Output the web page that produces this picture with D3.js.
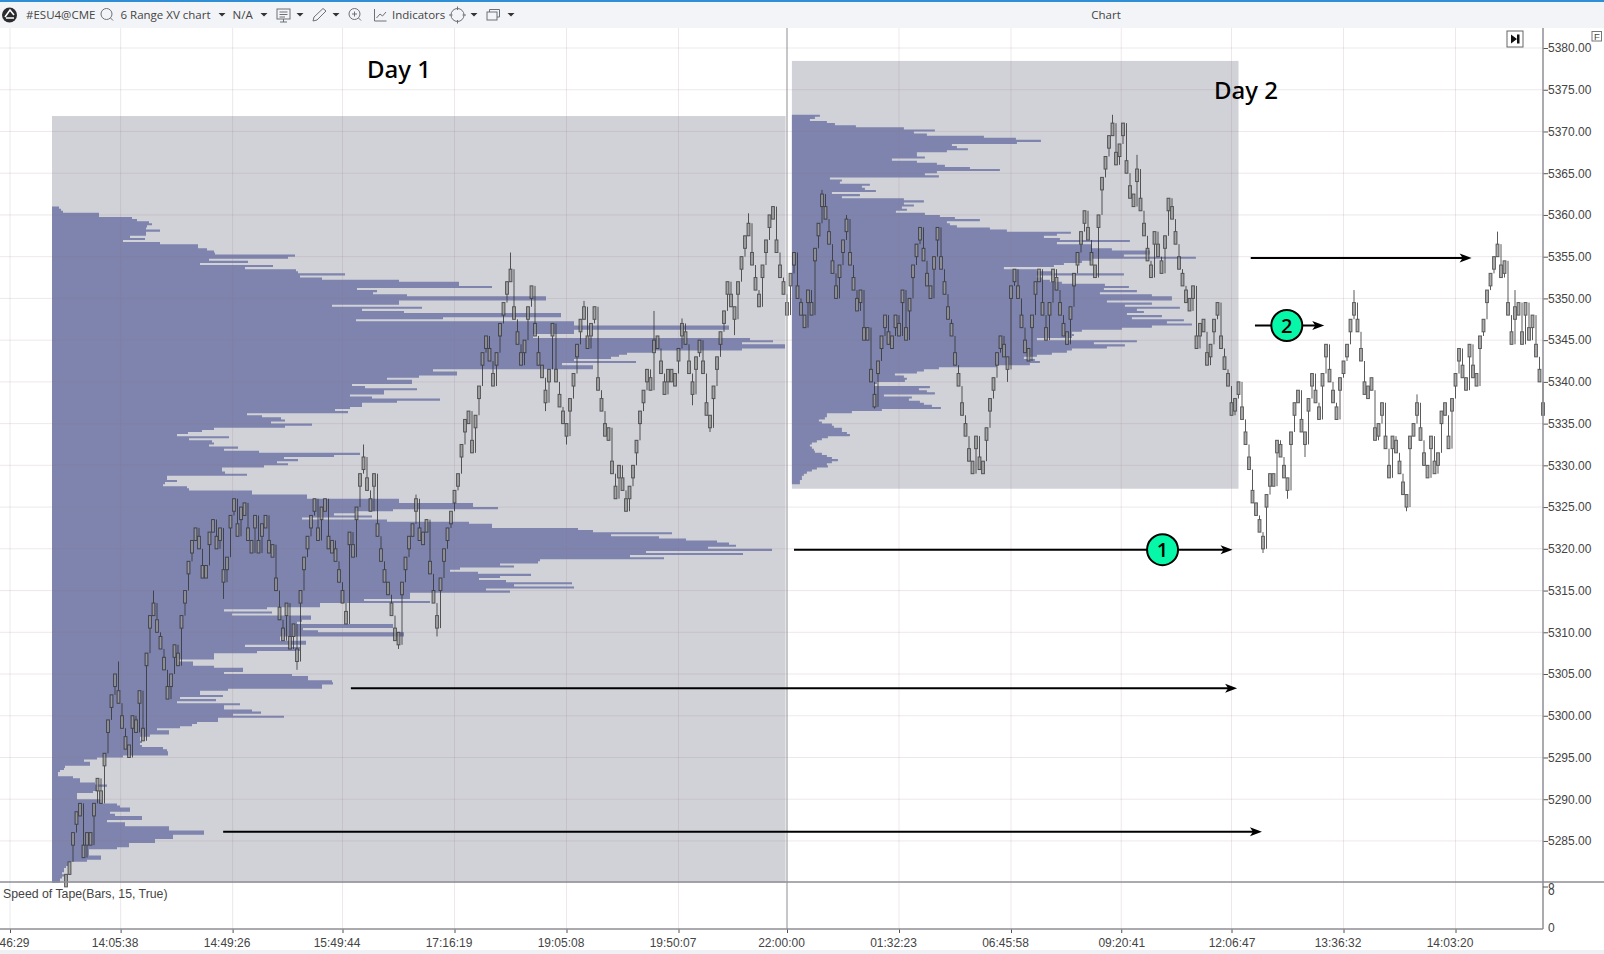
<!DOCTYPE html>
<html>
<head>
<meta charset="utf-8">
<title>Chart</title>
<script src="https://cdn.jsdelivr.net/npm/d3@7"></script>
<style>
html, body { margin: 0; padding: 0; background: #fff; overflow: hidden; }
svg { display: block; }
</style>
</head>
<body>
<svg id="chart" width="1604" height="954"></svg>
<script>
// price axis and time axis labels
const priceTicks = [5380, 5375, 5370, 5365, 5360, 5355, 5350, 5345, 5340, 5335, 5330, 5325, 5320, 5315, 5310, 5305, 5300, 5295, 5290, 5285];
const tickBars = [-16, 15.6, 47.6, 79, 111, 143, 175, 206, 238, 270, 301.5, 333, 365, 397];
const tickLabels = ["46:29", "14:05:38", "14:49:26", "15:49:44", "17:16:19", "19:05:08", "19:50:07", "22:00:00", "01:32:23", "06:45:58", "09:20:41", "12:06:47", "13:36:32", "14:03:20"];
// how far each time label sits from its tick
const tickLabelShifts = [4, -6, -6, -6, -6, -6, -6, -6, -6, -6, 0, 0, -6, -6];

// 6 range bars, every body is 1.5 points tall
const rangeSize = 1.5;

// close of each bar from left to right
const closes = [
  5281, 5282.5, 5286, 5288.5, 5289.5, 5283, 5286, 5284.5, 5289.5, 5292.5, 5289.5, 5295.5, 5299.5, 5302.5, 5305, 5301.5, 5298.5, 5296, 5295, 5300,
  5298, 5303, 5297, 5307.5, 5312, 5313.5, 5310, 5308, 5305.5, 5302, 5305, 5308.5, 5306, 5312, 5315, 5318.5, 5321, 5322.5, 5320, 5316.5,
  5318, 5322, 5323.5, 5320, 5322.5, 5316, 5319, 5324, 5326, 5321.5, 5325, 5325.5, 5321, 5319.5, 5324, 5319.5, 5323, 5324, 5319.5, 5320.5,
  5315, 5311.5, 5309, 5313.5, 5308, 5311, 5306.5, 5315, 5319, 5321.5, 5324, 5326, 5321, 5325, 5326, 5320, 5321, 5318.5, 5316, 5313.5,
  5311, 5322, 5319, 5325, 5329, 5331, 5327, 5324.5, 5329, 5321.5, 5318.5, 5316, 5314.5, 5312, 5309, 5308.5, 5316, 5319, 5321.5, 5323,
  5326, 5321, 5322, 5323.5, 5317, 5313.5, 5310.5, 5316.5, 5320, 5322.5, 5324.5, 5327, 5329, 5332.5, 5335.5, 5336.5, 5331.5, 5336, 5339.5, 5343.5,
  5345.5, 5342.5, 5339.5, 5343.5, 5347, 5349.5, 5352, 5353.5, 5347.5, 5344.5, 5342, 5345, 5349, 5351.5, 5345.5, 5342, 5340.5, 5337.5, 5341.5, 5347,
  5340, 5337, 5335, 5333.5, 5338, 5341, 5344.5, 5347.5, 5349, 5344, 5347, 5349, 5339, 5336.5, 5333.5, 5334.5, 5329, 5326, 5330, 5327,
  5324.5, 5327.5, 5330, 5333, 5336.5, 5339, 5341.5, 5339, 5345, 5344, 5341, 5338.5, 5341.5, 5340, 5341, 5344, 5347, 5344.5, 5341, 5338.5,
  5343, 5345, 5341, 5336, 5334.5, 5339.5, 5343, 5346, 5348.5, 5352, 5349, 5347.5, 5352, 5355, 5357.5, 5359, 5354, 5351, 5349, 5354,
  5357, 5360, 5361, 5355.5, 5352.5, 5350.5, 5348, 5353, 5355.5, 5350, 5348, 5346.5, 5351, 5348, 5356, 5359, 5362.5, 5359.5, 5356.5, 5353,
  5350, 5354, 5357, 5359.5, 5354, 5351, 5348.5, 5351, 5345, 5346.5, 5340, 5337, 5342.5, 5345.5, 5348, 5344.5, 5345.5, 5348, 5345.5, 5351,
  5345, 5350, 5354, 5356.5, 5358.5, 5354.5, 5351.5, 5350, 5355, 5358.5, 5353.5, 5350.5, 5347.5, 5345.5, 5342, 5339.5, 5336, 5333.5, 5330.5, 5329,
  5333.5, 5329.5, 5330.5, 5334.5, 5338, 5340.5, 5343.5, 5345.5, 5343, 5341.5, 5351.5, 5353.5, 5350, 5346.5, 5343.5, 5342.5, 5348, 5352, 5353.5, 5348,
  5345, 5349.5, 5353.5, 5351, 5348, 5345.5, 5344.5, 5349, 5353, 5355.5, 5358, 5360.5, 5357, 5354, 5352.5, 5360, 5364.5, 5367, 5369.5, 5371,
  5366, 5368.5, 5371, 5365, 5362, 5361, 5365.5, 5360.5, 5357.5, 5354.5, 5352.5, 5358, 5355, 5353, 5357.5, 5362, 5359.5, 5356.5, 5353.5, 5351.5,
  5349.5, 5348.5, 5351.5, 5344, 5347, 5346, 5342, 5344.5, 5347.5, 5349.5, 5344, 5341.5, 5339.5, 5336, 5338, 5340, 5335.5, 5332.5, 5329.5, 5325.5,
  5324, 5322, 5320, 5326.5, 5329, 5327.5, 5333, 5331, 5328.5, 5327, 5334, 5337.5, 5339, 5334, 5332.5, 5338, 5341, 5337.5, 5335.5, 5341,
  5344.5, 5340, 5337.5, 5335.5, 5340.5, 5342.5, 5344.5, 5347.5, 5349.5, 5346, 5342.5, 5338.5, 5339.5, 5339, 5333, 5335, 5337.5, 5332, 5328.5, 5333.5,
  5331.5, 5329, 5326.5, 5325, 5333.5, 5335, 5337.5, 5333, 5330, 5328.5, 5333.5, 5329, 5331.5, 5336.5, 5336, 5332, 5338, 5341, 5344, 5340.5,
  5339, 5344.5, 5340.5, 5339.5, 5345.5, 5347.5, 5351, 5353, 5355, 5356.5, 5352.5, 5354.5, 5348, 5344.5, 5349, 5349.5, 5344.5, 5349.5, 5345, 5348,
  5343, 5340, 5336
];

// the few bars whose wick sticks out of the body
const wickBars = [15, 25, 45, 66, 85, 95, 100, 106, 127, 137, 143, 148, 168, 176, 179, 184, 191, 195, 216, 223, 231, 269, 299, 306, 342, 349, 354, 368, 383, 386, 409, 414];
const wickEnds = [5306.5, 5315, 5314, 5305.5, 5332.5, 5308, 5326.5, 5309.5, 5355.5, 5336.5, 5332.5, 5349.7, 5348.5, 5347.6, 5337.2, 5334, 5345.6, 5360.2, 5363, 5360, 5336.8, 5340, 5372, 5367.2, 5319.5, 5326, 5331, 5351, 5324.5, 5338.5, 5358, 5351];

// volume profile of each day, one value per 0.25 point going down from the top price
const profileTick = 0.25;
const day1TopPrice = 5361;
const day1Volumes = [
  5, 7, 9, 11, 47, 47, 80, 85, 97, 100, 95, 94, 108, 94, 94, 78, 93, 71, 108, 146,
  146, 155, 162, 163, 243, 236, 157, 196, 148, 221, 193, 244, 246, 293, 248, 270, 347, 407, 407, 440,
  305, 325, 321, 355, 494, 494, 347, 347, 280, 370, 310, 352, 509, 509, 391, 304, 522, 522, 677, 677,
  522, 522, 481, 481, 698, 721, 690, 733, 733, 690, 600, 575, 567, 559, 522, 584, 510, 541, 541, 381,
  405, 405, 367, 335, 360, 360, 300, 313, 365, 332, 332, 298, 320, 388, 345, 310, 310, 298, 283, 296,
  195, 210, 229, 233, 219, 260, 233, 162, 150, 136, 125, 177, 137, 160, 162, 157, 186, 172, 207, 308,
  282, 232, 246, 225, 236, 212, 170, 170, 173, 195, 115, 115, 125, 113, 111, 135, 137, 200, 200, 255,
  255, 347, 347, 421, 421, 446, 341, 303, 282, 320, 250, 335, 417, 440, 440, 526, 541, 620, 559, 607,
  634, 665, 677, 684, 656, 720, 594, 691, 578, 612, 488, 486, 448, 462, 408, 398, 426, 479, 448, 427,
  454, 520, 462, 522, 434, 458, 358, 358, 358, 312, 378, 268, 268, 215, 172, 220, 180, 259, 259, 250,
  245, 341, 341, 251, 266, 352, 352, 228, 228, 254, 254, 193, 248, 248, 205, 162, 162, 162, 126, 141,
  141, 162, 191, 191, 172, 240, 256, 256, 280, 281, 270, 270, 176, 148, 148, 171, 128, 164, 125, 188,
  172, 172, 200, 209, 181, 232, 166, 166, 145, 140, 128, 105, 117, 117, 98, 88, 88, 90, 88, 90,
  111, 115, 116, 116, 71, 45, 32, 38, 38, 13, 12, 8, 6, 6, 21, 28, 28, 43, 55, 45,
  45, 41, 25, 25, 25, 50, 50, 65, 68, 78, 78, 58, 63, 90, 90, 55, 73, 73, 117, 117,
  152, 152, 121, 121, 103, 103, 77, 77, 65, 37, 37, 37, 49, 49, 35, 16, 16, 14, 12, 12,
  10, 12, 10, 8
];
const day2TopPrice = 5372;
const day2Volumes = [
  28, 28, 23, 18, 35, 43, 64, 112, 143, 122, 135, 192, 224, 249, 225, 160, 165, 176, 155, 125,
  125, 133, 100, 125, 145, 153, 178, 208, 145, 133, 147, 38, 50, 48, 78, 70, 73, 84, 40, 68,
  50, 112, 132, 112, 122, 110, 115, 104, 133, 148, 163, 188, 155, 158, 165, 198, 215, 279, 265, 252,
  268, 338, 265, 300, 300, 320, 358, 358, 332, 404, 300, 290, 272, 262, 212, 245, 260, 332, 245, 250,
  258, 270, 313, 337, 312, 345, 308, 360, 380, 380, 315, 360, 333, 388, 345, 352, 335, 370, 340, 392,
  375, 400, 360, 330, 290, 280, 282, 280, 245, 345, 302, 333, 315, 280, 275, 260, 245, 232, 243, 248,
  238, 205, 147, 132, 125, 103, 112, 115, 113, 85, 82, 138, 127, 135, 143, 92, 120, 117, 128, 132,
  140, 149, 90, 60, 35, 35, 33, 27, 30, 40, 42, 50, 50, 55, 58, 36, 30, 25, 20, 18,
  20, 22, 23, 30, 35, 40, 46, 40, 35, 36, 25, 20, 15, 12, 10, 10, 8
];

// shaded session boxes: first bar, last bar, top and bottom price
const boxBarsStart = [-4, 207.4];
const boxBarsEnd = [205.6, 335];
const boxTops = [5371.85, 5378.45];
const boxBottoms = [5280, 5327.2];

// arrows on the chart: price level, start bar, end bar, bar of the numbered badge
const arrowPrices = [5319.9, 5354.85, 5346.75, 5303.3, 5286.1];
const arrowStarts = [208, 338.5, 339.7, 81.4, 44.9];
const arrowEnds = [333.3, 401.6, 359.5, 334.6, 341.7];
const badgeBars = [313.3, null, 348.8, null, null];
const badgeLabels = ["1", null, "2", null, null];

const svg = d3.select("#chart");

const x = d3.scaleLinear().domain([0, 422]).range([66, 1543]);
const y = d3.scaleLinear().domain([5380, 5280]).range([48, 882.7]);
const volWidth = d3.scaleLinear().domain([0, 735]).range([0, 735]);

const axisX = 1543, pricePaneBottom = 882, timeAxisY = 929;

// session boxes go under everything
svg.append("g").selectAll("rect")
  .data(boxTops)
  .join("rect")
  .attr("x", (d, i) => x(boxBarsStart[i]))
  .attr("y", d => y(d))
  .attr("width", (d, i) => x(boxBarsEnd[i]) - x(boxBarsStart[i]))
  .attr("height", (d, i) => y(boxBottoms[i]) - y(d))
  .attr("fill", "#d1d2d7");

// volume profiles, one stepped shape per day so the rows have no seams
function drawProfile(volumes, topPrice, left) {
  const profileArea = d3.area()
    .curve(d3.curveStepAfter)
    .y((d, i) => y(topPrice - i * profileTick))
    .x0(left)
    .x1(d => left + volWidth(d));
  svg.append("path")
    .attr("d", profileArea(volumes.concat(volumes[volumes.length - 1])))
    .attr("fill", "#7e84ad");
}
drawProfile(day1Volumes, day1TopPrice, x(boxBarsStart[0]));
drawProfile(day2Volumes, day2TopPrice, x(boxBarsStart[1]));

// grid
const gridColor = "rgba(150,115,130,0.16)";
svg.append("g").selectAll("line")
  .data(priceTicks)
  .join("line")
  .attr("x1", 0).attr("x2", axisX)
  .attr("y1", d => y(d)).attr("y2", d => y(d))
  .attr("stroke", gridColor);
svg.append("g").selectAll("line")
  .data(tickBars)
  .join("line")
  .attr("x1", d => x(d)).attr("x2", d => x(d))
  .attr("y1", 28).attr("y2", timeAxisY)
  .attr("stroke", gridColor);

// candles
const candles = svg.append("g").attr("opacity", 0.8);
candles.selectAll("line.stem")
  .data(closes)
  .join("line")
  .attr("class", "stem")
  .attr("x1", (d, i) => x(i)).attr("x2", (d, i) => x(i))
  .attr("y1", (d, i) => y(i ? closes[i - 1] : d))
  .attr("y2", d => y(d))
  .attr("stroke", "#333");
candles.selectAll("line.wick")
  .data(wickBars)
  .join("line")
  .attr("class", "wick")
  .attr("x1", d => x(d)).attr("x2", d => x(d))
  .attr("y1", d => y(closes[d]))
  .attr("y2", (d, i) => y(wickEnds[i]))
  .attr("stroke", "#333");
candles.selectAll("rect")
  .data(closes)
  .join("rect")
  .attr("x", (d, i) => x(i) - 1.4)
  .attr("width", 2.8)
  .attr("y", (d, i) => (i && d < closes[i - 1]) ? y(d + rangeSize) : y(d))
  .attr("height", y(0) - y(rangeSize))
  .attr("fill", "#9a9a9a")
  .attr("stroke", "#333")
  .attr("stroke-width", 1);

// session divider
svg.append("line")
  .attr("x1", x(tickBars[7])).attr("x2", x(tickBars[7]))
  .attr("y1", 28).attr("y2", timeAxisY)
  .attr("stroke", "#a6a6aa").attr("stroke-width", 1.2);

// arrows and badges
const arrows = svg.append("g");
arrowPrices.forEach((price, i) => {
  const ay = y(price), x0 = x(arrowStarts[i]), x1 = x(arrowEnds[i]);
  arrows.append("line")
    .attr("x1", x0).attr("x2", x1 - 6)
    .attr("y1", ay).attr("y2", ay)
    .attr("stroke", "#000").attr("stroke-width", 2);
  arrows.append("path")
    .attr("d", `M${x1},${ay} L${x1 - 12},${ay - 4.5} L${x1 - 9},${ay} L${x1 - 12},${ay + 4.5} Z`)
    .attr("fill", "#000");
  if (badgeBars[i] !== null) {
    arrows.append("circle")
      .attr("cx", x(badgeBars[i])).attr("cy", ay).attr("r", 15.5)
      .attr("fill", "#06f7a8").attr("stroke", "#000").attr("stroke-width", 2);
    arrows.append("text")
      .attr("x", x(badgeBars[i])).attr("y", ay + 7)
      .attr("text-anchor", "middle")
      .attr("font-family", "'Open Sans', sans-serif").attr("font-size", 20).attr("font-weight", 600)
      .text(badgeLabels[i]);
  }
});

// day captions
const dayFont = "'Noto Sans', sans-serif";
svg.append("text").attr("x", 367).attr("y", 78).text("Day 1")
  .attr("font-family", dayFont).attr("font-size", 24).attr("font-weight", 500);
svg.append("text").attr("x", 1214).attr("y", 99).text("Day 2")
  .attr("font-family", dayFont).attr("font-size", 24).attr("font-weight", 500);

// panes and axes
const axisColor = "#8e8e94";
svg.append("line").attr("x1", 0).attr("x2", 1604).attr("y1", pricePaneBottom).attr("y2", pricePaneBottom)
  .attr("stroke", axisColor).attr("stroke-width", 1.5);

const priceAxis = svg.append("g")
  .attr("transform", `translate(${axisX},0)`)
  .call(d3.axisRight(y).tickValues(priceTicks).tickFormat(d3.format(".2f")).tickSize(5).tickPadding(0));
const timeAxis = svg.append("g")
  .attr("transform", `translate(0,${timeAxisY})`)
  .call(d3.axisBottom(x).tickValues(tickBars).tickFormat((d, i) => tickLabels[i]).tickSize(4).tickPadding(5));

[priceAxis, timeAxis].forEach(g => {
  g.select(".domain").remove();
  g.selectAll("line").attr("stroke", "#555");
  g.selectAll("text").attr("font-family", "'Liberation Sans', Arial, sans-serif").attr("font-size", 12).attr("fill", "#444");
});
timeAxis.selectAll("text").attr("dx", (d, i) => tickLabelShifts[i]);

svg.append("line").attr("x1", axisX).attr("x2", axisX).attr("y1", 28).attr("y2", timeAxisY)
  .attr("stroke", axisColor).attr("stroke-width", 1.5);
svg.append("line").attr("x1", 0).attr("x2", axisX).attr("y1", timeAxisY).attr("y2", timeAxisY)
  .attr("stroke", axisColor).attr("stroke-width", 1.5);

// speed of tape pane labels
const paneText = (tx, ty, t, size) => svg.append("text")
  .attr("x", tx).attr("y", ty).text(t)
  .attr("font-family", "'Liberation Sans', Arial, sans-serif").attr("font-size", size || 12).attr("fill", "#444");
paneText(3, 898, "Speed of Tape(Bars, 15, True)", 12.3);
// the top label of this pane is squeezed, it reads as one tall glyph
paneText(0, 0, "8").attr("transform", "translate(1548,895) scale(1,1.45)");
paneText(1548, 932, "0");
svg.append("line").attr("x1", axisX).attr("x2", axisX + 5).attr("y1", 887).attr("y2", 887).attr("stroke", "#555");

// toolbar
svg.append("rect").attr("x", 0).attr("y", 0).attr("width", 1604).attr("height", 28).attr("fill", "#f3f4f7");
svg.append("rect").attr("x", 0).attr("y", 0).attr("width", 1604).attr("height", 2).attr("fill", "#2f8fd6");
svg.append("rect").attr("x", 0).attr("y", 950).attr("width", 1604).attr("height", 4).attr("fill", "#eff0f4");

const toolFont = "'Open Sans', sans-serif";
const toolText = (tx, t, anchor) => svg.append("text")
  .attr("x", tx).attr("y", 19).attr("text-anchor", anchor || "start").text(t)
  .attr("font-family", toolFont).attr("font-size", 11.5).attr("fill", "#444");
toolText(26, "#ESU4@CME");
toolText(120.5, "6 Range XV chart");
toolText(232.5, "N/A");
toolText(392, "Indicators");
toolText(1106, "Chart", "middle");

const icons = svg.append("g").attr("fill", "none").attr("stroke", "#6c7078");
// dropdown carets
[222, 264, 300, 336, 474, 511].forEach(cx => {
  svg.append("path").attr("d", `M${cx - 3.5},13 L${cx + 3.5},13 L${cx},16.5 Z`).attr("fill", "#333");
});
// logo
svg.append("circle").attr("cx", 9.5).attr("cy", 15).attr("r", 7.5).attr("fill", "#2c2c30");
svg.append("path").attr("d", "M5,17 L10,10 L14,15 M6,18 L14,18").attr("fill", "none").attr("stroke", "#fff").attr("stroke-width", 1.6);
// search
icons.append("circle").attr("cx", 106.5).attr("cy", 14).attr("r", 5.5);
icons.append("line").attr("x1", 110.5).attr("y1", 18).attr("x2", 113).attr("y2", 20.5);
// monitor
icons.append("rect").attr("x", 277).attr("y", 9).attr("width", 13).attr("height", 10);
icons.append("path").attr("d", "M279.5,12 H287.5 M279.5,14.5 H287.5 M279.5,17 H285 M283.5,19 V22 M280,22 H287");
// pencil
icons.append("path").attr("d", "M313,21 L314,17 L323,8.5 L326,11 L317,20 Z");
// zoom plus
icons.append("circle").attr("cx", 354.5).attr("cy", 14).attr("r", 5.5);
icons.append("path").attr("d", "M352,14 H357 M354.5,11.5 V16.5 M358.5,18 L361,20.5");
// indicators chart
icons.append("path").attr("d", "M374.5,9 V21 H386.5 M376.5,18 L380,14 L382.5,16 L386,12");
// crosshair
icons.append("circle").attr("cx", 457.5).attr("cy", 15).attr("r", 6.5);
icons.append("path").attr("d", "M457.5,6.5 V10 M457.5,20 V23.5 M449,15 H452.5 M462.5,15 H466");
// windows
icons.append("rect").attr("x", 487).attr("y", 12).attr("width", 10).attr("height", 8);
icons.append("path").attr("d", "M489.5,12 V9.5 H499.5 V17 H497");

// scroll to end button and F box
svg.append("rect").attr("x", 1507).attr("y", 31).attr("width", 16).attr("height", 16).attr("fill", "#fff").attr("stroke", "#666");
svg.append("path").attr("d", "M1511,34.5 L1517,39 L1511,43.5 Z M1517,34.5 H1519.5 V43.5 H1517 Z").attr("fill", "#111");
svg.append("rect").attr("x", 1592).attr("y", 31.5).attr("width", 9.5).attr("height", 9.5).attr("fill", "#fff").attr("stroke", "#777");
svg.append("text").attr("x", 1594).attr("y", 40).text("F").attr("font-family", "'Liberation Sans', Arial, sans-serif").attr("font-size", 9.5).attr("fill", "#444");
</script>
</body>
</html>
